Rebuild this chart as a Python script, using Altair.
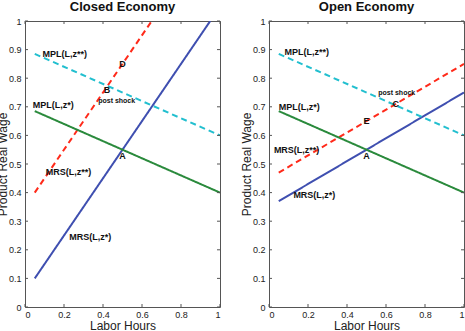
import altair as alt
import pandas as pd

FONT = "Liberation Sans"

series = ["MRS(L,z*)", "MRS(L,z**)", "MPL(L,z*)", "MPL(L,z**)"]
colors = ["#3f4fb0", "#ff2a1a", "#2a8a3c", "#22bfcf"]
dashes = [[1, 0], [6, 4], [1, 0], [6, 4]]

# line endpoints
closed_x0 = [0.05, 0.05, 0.05, 0.05]
closed_y0 = [0.10, 0.40, 0.685, 0.885]
closed_x1 = [0.95, 0.65, 1.00, 1.00]
closed_y1 = [1.00, 1.00, 0.40, 0.60]

open_x0 = [0.05, 0.05, 0.05, 0.05]
open_y0 = [0.37, 0.47, 0.685, 0.885]
open_x1 = [1.00, 1.00, 1.00, 1.00]
open_y1 = [0.75, 0.85, 0.40, 0.60]

closed_lbl = ["MPL(L,z**)", "D", "B", "post shock", "MPL(L,z*)", "A", "MRS(L,z**)", "MRS(L,z*)"]
closed_lx = [0.09, 0.50, 0.42, 0.47, 0.04, 0.50, 0.107, 0.227]
closed_ly = [0.885, 0.85, 0.76, 0.72, 0.707, 0.528, 0.472, 0.245]

open_lbl = ["MPL(L,z**)", "post shock", "C", "MPL(L,z*)", "E", "MRS(L,z**)", "A", "MRS(L,z*)"]
open_lx = [0.08, 0.655, 0.65, 0.05, 0.50, 0.025, 0.50, 0.125]
open_ly = [0.89, 0.75, 0.71, 0.70, 0.65, 0.55, 0.528, 0.39]

x_ticks = [0, 0.2, 0.4, 0.6, 0.8, 1.0]
y_ticks = [0, 0.1, 0.2, 0.3, 0.4, 0.5, 0.6, 0.7, 0.8, 0.9, 1.0]

W, H = 195, 286
XT, YT = "Labor Hours", "Product Real Wage"


def xenc():
    return alt.X("x:Q", scale=alt.Scale(domain=[0, 1], nice=False, zero=False), title=XT,
                 axis=alt.Axis(values=x_ticks, format="~g", ticks=False, domain=False, grid=False,
                               labelFontSize=9, labelPadding=3, titleFontSize=12,
                               titleFontWeight="normal", titlePadding=1, labelColor="#222",
                               titleColor="#222", labelFont=FONT, titleFont=FONT))


def yenc():
    return alt.Y("y:Q", scale=alt.Scale(domain=[0, 1], nice=False, zero=False), title=YT,
                 axis=alt.Axis(values=y_ticks, format="~g", ticks=False, domain=False, grid=False,
                               labelFontSize=9, labelPadding=4, titleFontSize=12,
                               titleFontWeight="normal", titleX=-23, titleY=H / 2,
                               titleBaseline="middle", titleAlign="center", labelColor="#222",
                               titleColor="#222", labelFont=FONT, titleFont=FONT))


def panel(title, x0, y0, x1, y1, lbl, lx, ly):
    rows = []
    for i, s in enumerate(series):
        rows.append({"s": s, "x": x0[i], "y": y0[i], "o": 0})
        rows.append({"s": s, "x": x1[i], "y": y1[i], "o": 1})
    ldf = pd.DataFrame(rows)
    lines = alt.Chart(ldf).mark_line(strokeWidth=2, clip=True).encode(
        x=xenc(), y=yenc(),
        color=alt.Color("s:N", scale=alt.Scale(domain=series, range=colors), legend=None),
        strokeDash=alt.StrokeDash("s:N", scale=alt.Scale(domain=series, range=dashes), legend=None),
        order="o:Q",
    )
    kinds = ["ps" if t == "post shock" else ("letter" if len(t) == 1 else "big") for t in lbl]
    tdf = pd.DataFrame({"x": lx, "y": ly, "t": lbl, "k": kinds})
    big = alt.Chart(tdf[tdf.k == "big"]).mark_text(
        align="left", baseline="middle", font=FONT, fontWeight="bold", fontSize=9, color="#111"
    ).encode(x=xenc(), y=yenc(), text="t:N")
    let = alt.Chart(tdf[tdf.k == "letter"]).mark_text(
        align="center", baseline="middle", font=FONT, fontWeight="bold", fontSize=9, color="#111"
    ).encode(x=xenc(), y=yenc(), text="t:N")
    ps = alt.Chart(tdf[tdf.k == "ps"]).mark_text(
        align="center", baseline="middle", font=FONT, fontWeight="bold", fontSize=7, color="#111"
    ).encode(x=xenc(), y=yenc(), text="t:N")

    ydf = pd.DataFrame({"y": y_ticks})
    xdf = pd.DataFrame({"x": x_ticks})
    tc = "#555"
    yl = alt.Chart(ydf).mark_rule(color=tc).encode(y=yenc(), x=alt.value(0), x2=alt.value(3))
    yr = alt.Chart(ydf).mark_rule(color=tc).encode(y=yenc(), x=alt.value(W - 3), x2=alt.value(W))
    xb = alt.Chart(xdf).mark_rule(color=tc).encode(x=xenc(), y=alt.value(H - 3), y2=alt.value(H))
    xt = alt.Chart(xdf).mark_rule(color=tc).encode(x=xenc(), y=alt.value(0), y2=alt.value(3))

    return alt.layer(lines, yl, yr, xb, xt, big, let, ps).properties(
        width=W, height=H,
        title=alt.TitleParams(title, fontSize=13, font=FONT, fontWeight="bold", offset=3, color="#111"),
    )


left = panel("Closed Economy", closed_x0, closed_y0, closed_x1, closed_y1, closed_lbl, closed_lx, closed_ly)
right = panel("Open Economy", open_x0, open_y0, open_x1, open_y1, open_lbl, open_lx, open_ly)

chart = alt.hconcat(left, right, spacing=49, bounds="flush").properties(
    padding={"left": -5, "top": 0, "right": 0, "bottom": 0},
    background="white",
).configure_view(stroke="#555", strokeWidth=1)

chart.save("out.html", embed_options={"renderer": "svg", "actions": False})
